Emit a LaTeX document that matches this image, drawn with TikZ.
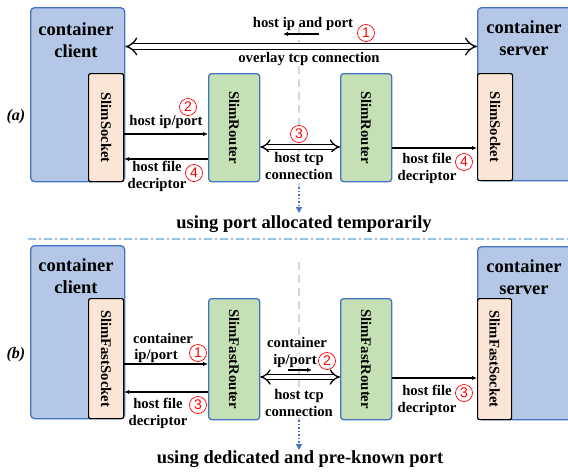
\documentclass[tikz,border=0pt]{standalone}
\usepackage{fontspec}
\setmainfont{Liberation Serif}
\newfontfamily\circfont{Liberation Sans}
\usetikzlibrary{arrows.meta}
\definecolor{cfill}{HTML}{B4C7E7}
\definecolor{cborder}{HTML}{4472C4}
\definecolor{rfill}{HTML}{C5E0B4}
\definecolor{sfill}{HTML}{FBE5D6}
\definecolor{sepblue}{HTML}{9DC3E6}
\definecolor{vgray}{HTML}{D0D6E2}
\begin{document}
\begin{tikzpicture}[x=1pt,y=-1pt,
 container/.style={draw=cborder, fill=cfill, line width=1.3pt, rounded corners=4pt, anchor=north west, inner sep=0pt},
 router/.style={draw=cborder, fill=rfill, line width=1.3pt, rounded corners=3pt, anchor=north west, inner sep=0pt},
 sock/.style={draw=black, fill=sfill, line width=1.2pt, rounded corners=2pt, anchor=north west, inner sep=0pt},
 lbl/.style={font=\fontsize{14.7}{16.5}\selectfont\bfseries, align=center, inner sep=0pt, anchor=base},
 wlbl/.style={lbl, fill=white},
 ttl/.style={font=\fontsize{18.5}{21.5}\selectfont\bfseries, align=center, inner sep=0pt, anchor=base},
 vlbl/.style={font=\fontsize{14.7}{16}\selectfont\bfseries, rotate=-90, inner sep=0pt},
 num/.style={circle, draw=red, fill=white, text=red, line width=0.7pt, minimum size=17pt, inner sep=0pt, font=\circfont\fontsize{14}{14}\selectfont},
 tarrow/.style={line width=1.2pt, -{Latex[length=5pt,width=4.5pt]}},
 dbl/.style={double, double distance=#1, line width=1.3pt, {Implies[scale=1.35]}-{Implies[scale=1.35]}},
 vdash/.style={draw=vgray, line width=1.5pt, dash pattern=on 8pt off 5pt},
 vdot/.style={draw=cborder, line width=1.5pt, dotted, -{Triangle[length=6pt,width=6pt]}},
 ]
\useasboundingbox (0,0) rectangle (568,472);
\clip (0,0) rectangle (568,472);

% ---------------- (a) ----------------
\node[container, minimum width=94pt, minimum height=174pt] (ccA) at (30,7) {};
\node[container, minimum width=100pt, minimum height=173pt] (csA) at (477,7) {};
\node[sock, minimum width=35pt, minimum height=108pt] (skA1) at (88,73) {};
\node[sock, minimum width=35pt, minimum height=107pt] (skA2) at (477,73) {};
\node[router, minimum width=51pt, minimum height=108pt] (rtA1) at (208,73) {};
\node[router, minimum width=51pt, minimum height=108pt] (rtA2) at (340,73) {};

\node[ttl] (tcA) at (76,57) {container\\client};
\node[ttl] (tsA) at (524,55) {container\\server};
\node[vlbl] (vA1) at (skA1.center) {SlimSocket};
\node[vlbl] (vA2) at (skA2.center) {SlimSocket};
\node[vlbl] (vA3) at (rtA1.center) {SlimRouter};
\node[vlbl] (vA4) at (rtA2.center) {SlimRouter};
\node[font=\fontsize{16}{16}\selectfont\bfseries\itshape, anchor=base, inner sep=0pt] (la) at (16,120) {(a)};

\draw[vdash] (299,27) -- (299,187) coordinate (dA);
\coordinate (dAe) at (299,213);
\draw[vdot] (dA) -- (dAe);

\coordinate (yov) at (0,46.5);
\draw[dbl=5pt] (ccA.east |- yov) -- (csA.west |- yov);
\node[lbl] (hipA) at (303,27) {host ip and port};
\coordinate (sa1) at (319,34);
\coordinate (sa2) at (283,34);
\draw[tarrow] (sa1) -- (sa2);
\node[num] (n1A) at (366,33) {1};
\node[wlbl] (ovA) at (309,62) {overlay tcp connection};

\coordinate (y1) at (0,134);
\draw[tarrow] (skA1.east |- y1) -- (rtA1.west |- y1);
\node[lbl] (l2A) at (166,125) {host ip/port};
\node[num] (n2A) at (188,107) {2};

\coordinate (y2) at (0,159);
\draw[tarrow] (rtA1.west |- y2) -- (skA1.east |- y2);
\node[lbl] (l4A) at (157,188) {host file\\decriptor};
\node[num] (n4A) at (194,173) {4};

\coordinate (y3) at (0,147);
\node[num] (n3A) at (299,134) {3};
\draw[dbl=4pt] (rtA1.east |- y3) -- (rtA2.west |- y3);
\node[wlbl] (l3A) at (299,179) {host tcp\\connection};

\coordinate (y4) at (0,148);
\draw[tarrow] (rtA2.east |- y4) -- (skA2.west |- y4);
\node[lbl] (l5A) at (427,180) {host file\\decriptor};
\node[num] (n5A) at (464,162) {4};

\node[ttl] (capA) at (304,228) {using port allocated temporarily};

\coordinate (s1) at (28,239);
\coordinate (s2) at (568,239);
\draw[draw=sepblue, line width=1.5pt, dash pattern=on 8pt off 3pt on 2pt off 3pt] (s1) -- (s2);

% ---------------- (b) ----------------
\node[container, minimum width=94pt, minimum height=173pt] (ccB) at (30,245) {};
\node[container, minimum width=100pt, minimum height=173pt] (csB) at (477,246) {};
\node[sock, minimum width=35pt, minimum height=120pt] (skB1) at (88,298) {};
\node[sock, minimum width=34pt, minimum height=121pt] (skB2) at (477,298) {};
\node[router, minimum width=51pt, minimum height=121pt] (rtB1) at (208,298) {};
\node[router, minimum width=51pt, minimum height=121pt] (rtB2) at (340,298) {};

\node[ttl] (tcB) at (76,293) {container\\client};
\node[ttl] (tsB) at (524,294) {container\\server};
\node[vlbl] (vB1) at (skB1.center) {SlimFastSocket};
\node[vlbl] (vB2) at (skB2.center) {SlimFastSocket};
\node[vlbl] (vB3) at (rtB1.center) {SlimFastRouter};
\node[vlbl] (vB4) at (rtB2.center) {SlimFastRouter};
\node[font=\fontsize{16}{16}\selectfont\bfseries\itshape, anchor=base, inner sep=0pt] (lb) at (16,358) {(b)};

\draw[vdash] (299,262) -- (299,420) coordinate (dB);
\coordinate (dBe) at (299,450);
\draw[vdot] (dB) -- (dBe);

\coordinate (z1) at (0,364);
\draw[tarrow] (skB1.east |- z1) -- (rtB1.west |- z1);
\node[lbl] (l1Ba) at (163,343) {container};
\node[lbl] (l1Bb) at (156,359) {ip/port};
\node[num] (n1B) at (198,353) {1};

\coordinate (z2) at (0,392);
\draw[tarrow] (rtB1.west |- z2) -- (skB1.east |- z2);
\node[lbl] (l3B) at (158,425) {host file\\decriptor};
\node[num] (n3B) at (198,405) {3};

\coordinate (z3) at (0,377);
\node[wlbl] (l2Ba) at (297,347) {container};
\node[wlbl] (l2Bb) at (295,364) {ip/port};
\coordinate (sb1) at (288,370);
\coordinate (sb2) at (312,370);
\draw[tarrow] (sb1) -- (sb2);
\node[num] (n2B) at (327,361) {2};
\draw[dbl=4pt] (rtB1.east |- z3) -- (rtB2.west |- z3);
\node[wlbl] (l4B) at (299,416) {host tcp\\connection};

\coordinate (z4) at (0,378);
\draw[tarrow] (rtB2.east |- z4) -- (skB2.west |- z4);
\node[lbl] (l5B) at (427,412) {host file\\decriptor};
\node[num] (n5B) at (464,393) {3};

\node[ttl] (capB) at (300,463) {using dedicated and pre-known port};
\end{tikzpicture}
\end{document}
